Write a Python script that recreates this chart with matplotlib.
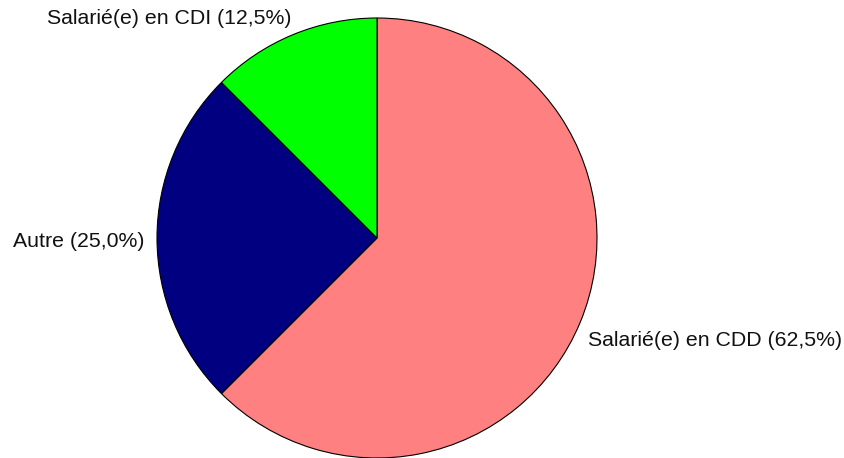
import matplotlib
matplotlib.use("Agg")
import matplotlib.pyplot as plt

labels = ["Salarié(e) en CDD", "Autre", "Salarié(e) en CDI"]
values = [62.5, 25.0, 12.5]
colors = ["#FF8080", "#000080", "#00FF00"]

W, H = 844, 458
fig = plt.figure(figsize=(W / 100, H / 100), dpi=100)
cx, cy, r = 377, 238, 220
ax = fig.add_axes([(cx - r) / W, (H - cy - r) / H, 2 * r / W, 2 * r / H])
ax.pie(values, colors=colors, startangle=90, counterclock=False, radius=1,
       wedgeprops=dict(edgecolor="black", linewidth=0.8))
ax.set_xlim(-1, 1)
ax.set_ylim(-1, 1)
ax.set_aspect("equal")
ax.axis("off")

texts = [f"{l} ({v:.1f}%)".replace(".", ",") for l, v in zip(labels, values)]
positions = [(588, 340), (13, 241.5), (47, 19)]
for t, (x, y) in zip(texts, positions):
    fig.text(x / W, 1 - y / H, t, ha="left", va="center", fontsize=15.3,
             family="Liberation Sans", color="#111111")

fig.savefig("out.png", dpi=100)
